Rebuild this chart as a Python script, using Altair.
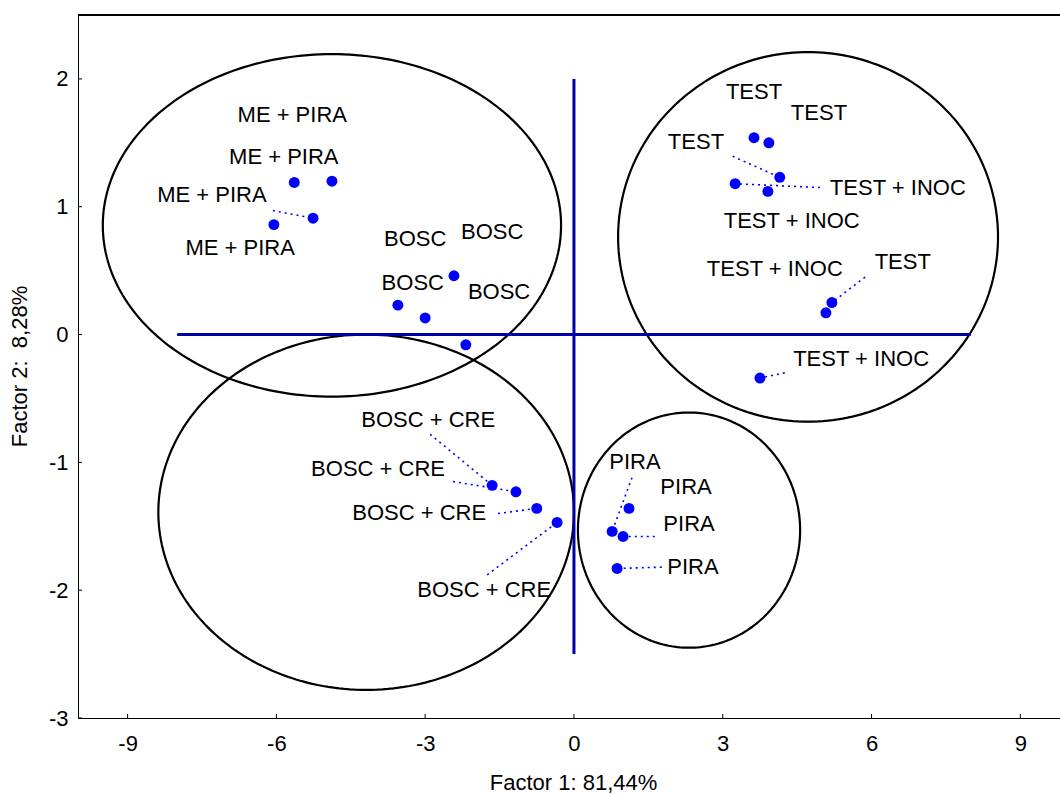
import altair as alt
import pandas as pd
import numpy as np

# ---- data ----
pt_x = [-5.64, -4.88, -5.26, -6.05,
        -2.42, -3.55, -3.00, -2.18,
        3.63, 3.93, 4.15, 3.25, 3.91, 5.20, 5.08, 3.75,
        -1.65, -1.17, -0.75, -0.34,
        1.11, 0.77, 0.99, 0.87]
pt_y = [1.19, 1.20, 0.91, 0.86,
        0.46, 0.23, 0.13, -0.08,
        1.54, 1.50, 1.23, 1.18, 1.12, 0.25, 0.17, -0.34,
        -1.18, -1.23, -1.36, -1.47,
        -1.36, -1.54, -1.58, -1.83]

lab_text = ["ME + PIRA", "ME + PIRA", "ME + PIRA", "ME + PIRA",
            "BOSC", "BOSC", "BOSC", "BOSC",
            "TEST", "TEST", "TEST", "TEST + INOC", "TEST + INOC", "TEST + INOC", "TEST", "TEST + INOC",
            "BOSC + CRE", "BOSC + CRE", "BOSC + CRE", "BOSC + CRE",
            "PIRA", "PIRA", "PIRA", "PIRA"]
lab_x = [-5.68, -5.85, -7.30, -6.73,
         -3.20, -1.65, -3.25, -1.51,
         3.63, 4.94, 2.46, 6.53, 4.39, 4.05, 6.63, 5.79,
         -2.94, -3.95, -3.12, -1.81,
         1.23, 2.26, 2.32, 2.40]
lab_y = [1.72, 1.39, 1.09, 0.68,
         0.75, 0.80, 0.40, 0.33,
         1.90, 1.73, 1.51, 1.15, 0.89, 0.51, 0.57, -0.19,
         -0.67, -1.05, -1.40, -2.00,
         -1.00, -1.19, -1.48, -1.82]

lead_x = [-6.07, 3.20, 4.96, 5.87, 4.25, -2.90, -2.44, -1.53, -1.75, 1.17, 1.63, 1.77]
lead_y = [0.97, 1.395, 1.15, 0.45, -0.30, -0.78, -1.15, -1.40, -1.88, -1.12, -1.58, -1.82]
lead_x2 = [-5.26, 4.15, 3.25, 5.20, 3.75, -1.65, -1.17, -0.75, -0.34, 0.77, 0.99, 0.87]
lead_y2 = [0.91, 1.23, 1.18, 0.25, -0.34, -1.18, -1.23, -1.36, -1.47, -1.54, -1.58, -1.83]

ell_cx = [-4.88, 4.72, -4.19, 2.32]
ell_cy = [0.854, 0.764, -1.39, -1.53]
ell_rx = [4.62, 3.83, 4.19, 2.24]
ell_ry = [1.34, 1.446, 1.39, 0.92]

axis_h_x = [-8, 8]
axis_v_y = [2, -2.5]

x_ticks = [-9, -6, -3, 0, 3, 6, 9]
y_ticks = [-3, -2, -1, 0, 1, 2]

x_title = "Factor 1: 81,44%"
y_title = "Factor 2:\u00a0 8,28%"

# ---- tables ----
pts = pd.DataFrame({"x": pt_x, "y": pt_y})
labs = pd.DataFrame({"x": lab_x, "y": lab_y, "t": lab_text})
leads = pd.DataFrame({"x": lead_x, "y": lead_y, "x2": lead_x2, "y2": lead_y2})

rows = []
th = np.linspace(0, 2 * np.pi, 241)
for i, (cx, cy, rx, ry) in enumerate(zip(ell_cx, ell_cy, ell_rx, ell_ry)):
    for k, t in enumerate(th):
        rows.append({"e": i, "k": k, "x": cx + rx * np.cos(t), "y": cy + ry * np.sin(t)})
ell = pd.DataFrame(rows)

zl = pd.DataFrame({"x": [axis_h_x[0], 0], "x2": [axis_h_x[1], 0],
                   "y": [0, axis_v_y[0]], "y2": [0, axis_v_y[1]]})
xt = pd.DataFrame({"v": x_ticks})
yt = pd.DataFrame({"v": y_ticks})

FONT = "Liberation Sans"
xs = alt.Scale(domain=[-10, 9.8], nice=False, zero=False)
ys = alt.Scale(domain=[-3, 2.5], nice=False, zero=False)

xaxis = alt.Axis(values=x_ticks, title=x_title, labelExpr="'' + datum.value",
                 ticks=False, tickSize=0, labelPadding=15, grid=False,
                 titleX=495, titleY=71, titleBaseline="alphabetic", titleAlign="center")
yaxis = alt.Axis(values=y_ticks, title=y_title, labelExpr="'' + datum.value",
                 ticks=False, tickSize=0, labelPadding=10, grid=False,
                 titleX=-52, titleY=351, titleAngle=270, titleBaseline="alphabetic",
                 titleAlign="center")

base_x = alt.X("x:Q", scale=xs, axis=xaxis)
base_y = alt.Y("y:Q", scale=ys, axis=yaxis)

ellipses = alt.Chart(ell).mark_line(color="black", strokeWidth=2.2).encode(
    x=base_x, y=base_y, detail="e:N", order="k:Q")

zero = alt.Chart(zl).mark_rule(color="#0000a8", strokeWidth=3).encode(
    x=alt.X("x:Q", scale=xs), x2="x2:Q", y=alt.Y("y:Q", scale=ys), y2="y2:Q")

leaders = alt.Chart(leads).mark_rule(color="#0000ff", strokeWidth=1.6, strokeDash=[2, 4]).encode(
    x=alt.X("x:Q", scale=xs), x2="x2:Q", y=alt.Y("y:Q", scale=ys), y2="y2:Q")

points = alt.Chart(pts).mark_circle(color="#0000ff", opacity=1, size=120).encode(
    x=alt.X("x:Q", scale=xs), y=alt.Y("y:Q", scale=ys))

labels = alt.Chart(labs).mark_text(font=FONT, fontSize=22, color="black",
                                   align="center", baseline="middle").encode(
    x=alt.X("x:Q", scale=xs), y=alt.Y("y:Q", scale=ys), text="t:N")

xticks = alt.Chart(xt).mark_rule(color="black", strokeWidth=1).encode(
    x=alt.X("v:Q", scale=xs), y=alt.value(699), y2=alt.value(703))
yticks = alt.Chart(yt).mark_rule(color="black", strokeWidth=1).encode(
    y=alt.Y("v:Q", scale=ys), x=alt.value(0), x2=alt.value(4))
topline = alt.Chart(xt).mark_rule(color="black", strokeWidth=1).encode(
    x=alt.value(0), x2=alt.value(982), y=alt.value(0))

chart = alt.layer(ellipses, zero, leaders, points, labels, xticks, yticks, topline).properties(
    width=982, height=703,
    autosize=alt.AutoSizeParams(type="none"),
    padding={"left": 78, "top": 15, "right": 0, "bottom": 76},
    background="white",
).configure_view(stroke=None).configure_axis(
    domainColor="black", domainWidth=1,
    labelFont=FONT, labelFontSize=22, labelColor="black",
    titleFont=FONT, titleFontSize=22, titleColor="black", titleFontWeight="normal",
)

chart.save("out.html", embed_options={"renderer": "svg", "actions": False})
